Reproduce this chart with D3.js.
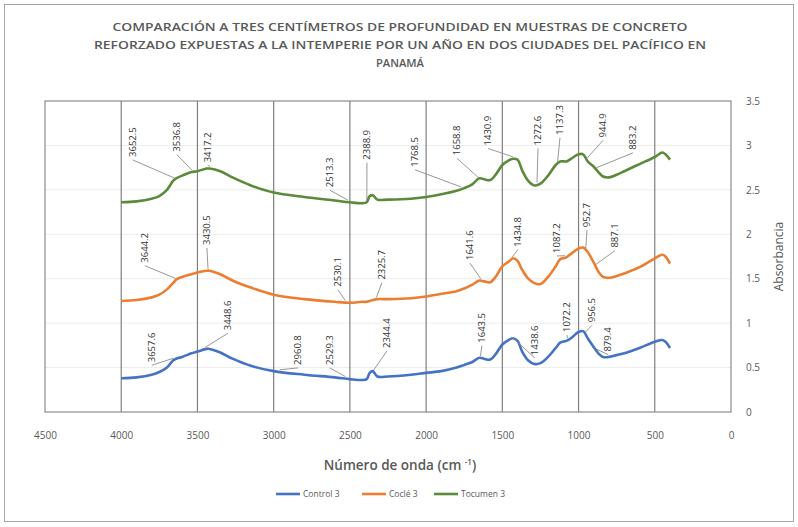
<!DOCTYPE html>
<meta charset='utf-8'>
<style>
  body { margin: 0; background: #fff; }
  svg text { font-family: "Open Sans", "Liberation Sans", sans-serif; fill: #595959; }
  .grid line { stroke: #7f7f7f; stroke-width: 1.2; }
  .hgrid line { stroke: #ececec; }
  .lbl { font-size: 9.5px; fill: #333; }
  .leader { stroke: #8c8c8c; stroke-width: 0.9; fill: none; }
</style>
<body></body>
<script src="https://cdn.jsdelivr.net/npm/d3@7"></script>
<script>

// wavenumbers (cm-1) shared by the three spectra
const wavenumbers = [4000, 3900, 3800, 3750, 3700, 3660, 3640, 3600, 3540, 3500, 3440, 3420, 3350, 3270, 3150, 3000,
  2800, 2600, 2500, 2420, 2390, 2370, 2350, 2320, 2250, 2100, 2000, 1900, 1800, 1750, 1700, 1650, 1620, 1580,
  1540, 1500, 1460, 1430, 1400, 1370, 1330, 1290, 1250, 1200, 1150, 1120, 1080, 1050, 1000, 970, 940, 900,
  870, 840, 800, 750, 700, 600, 500, 450, 430, 400];

const control3 = [0.38, 0.39, 0.42, 0.45, 0.50, 0.58, 0.60, 0.62, 0.66, 0.68, 0.71, 0.71, 0.67, 0.60, 0.52, 0.46,
  0.42, 0.39, 0.37, 0.36, 0.37, 0.44, 0.46, 0.40, 0.40, 0.42, 0.44, 0.46, 0.50, 0.53, 0.56, 0.61, 0.60, 0.59,
  0.66, 0.76, 0.81, 0.83, 0.80, 0.68, 0.58, 0.54, 0.55, 0.62, 0.72, 0.78, 0.80, 0.83, 0.90, 0.91, 0.83, 0.73,
  0.66, 0.62, 0.62, 0.64, 0.66, 0.72, 0.79, 0.81, 0.79, 0.72];

const cocle3 = [1.25, 1.26, 1.29, 1.32, 1.38, 1.45, 1.49, 1.52, 1.55, 1.57, 1.59, 1.59, 1.55, 1.48, 1.40, 1.32,
  1.27, 1.24, 1.23, 1.24, 1.24, 1.25, 1.26, 1.27, 1.27, 1.28, 1.30, 1.33, 1.36, 1.39, 1.43, 1.48, 1.47, 1.46,
  1.53, 1.64, 1.69, 1.73, 1.70, 1.60, 1.50, 1.45, 1.44, 1.52, 1.64, 1.72, 1.74, 1.78, 1.84, 1.85, 1.80, 1.68,
  1.58, 1.52, 1.51, 1.53, 1.56, 1.63, 1.73, 1.77, 1.75, 1.67];

const tocumen3 = [2.36, 2.37, 2.40, 2.43, 2.50, 2.60, 2.63, 2.66, 2.70, 2.71, 2.74, 2.74, 2.71, 2.64, 2.55, 2.47,
  2.42, 2.38, 2.36, 2.35, 2.36, 2.43, 2.44, 2.39, 2.39, 2.40, 2.42, 2.45, 2.49, 2.52, 2.56, 2.63, 2.62, 2.61,
  2.68, 2.78, 2.83, 2.85, 2.84, 2.72, 2.60, 2.55, 2.57, 2.66, 2.78, 2.82, 2.82, 2.85, 2.90, 2.90, 2.82, 2.76,
  2.70, 2.65, 2.64, 2.67, 2.71, 2.79, 2.87, 2.92, 2.90, 2.84];

const seriesNames = ['Control 3', 'Coclé 3', 'Tocumen 3'];
const seriesColors = ['#4472c4', '#ed7d31', '#5b8a3a'];

// peak labels: [series index, peak wavenumber, label wavenumber, label bottom absorbance]
const peakLabels = [
  [2, 3652.5, 3924, 2.87], [2, 3536.8, 3635, 2.93], [2, 3417.2, 3432, 2.81], [2, 2513.3, 2631, 2.53],
  [2, 2388.9, 2388, 2.84], [2, 1768.5, 2073, 2.76], [2, 1658.8, 1798, 2.89], [2, 1430.9, 1594, 3.00],
  [2, 1272.6, 1266, 3.00], [2, 1137.3, 1122, 3.12], [2, 944.9, 840, 3.09], [2, 883.2, 643, 2.95],
  [1, 3644.2, 3845, 1.68], [1, 3430.5, 3438, 1.88], [1, 2530.1, 2579, 1.41], [1, 2325.7, 2290, 1.49],
  [1, 1641.6, 1713, 1.71], [1, 1434.8, 1398, 1.86], [1, 1087.2, 1142, 1.79], [1, 952.7, 945, 2.08],
  [1, 887.1, 761, 1.85],
  [0, 3657.6, 3799, 0.56], [0, 3448.6, 3300, 0.92], [0, 2960.8, 2841, 0.53], [0, 2529.3, 2631, 0.53],
  [0, 2344.4, 2257, 0.72], [0, 1643.5, 1634, 0.78], [0, 1438.6, 1286, 0.64], [0, 1072.2, 1076, 0.90],
  [0, 956.5, 912, 1.01], [0, 879.4, 807, 0.68]
];

const xTicks = [4500, 4000, 3500, 3000, 2500, 2000, 1500, 1000, 500, 0];
const yTicks = [0, 0.5, 1, 1.5, 2, 2.5, 3, 3.5];

const titleLines = [
  'COMPARACIÓN A TRES CENTÍMETROS DE PROFUNDIDAD EN MUESTRAS DE CONCRETO',
  'REFORZADO EXPUESTAS A LA INTEMPERIE POR UN AÑO EN DOS CIUDADES DEL PACÍFICO EN',
  'PANAMÁ'
];

const W = 798, H = 527;
const svg = d3.select('body').append('svg').attr('width', W).attr('height', H);

svg.append('rect').attr('x', 4.5).attr('y', 4.5).attr('width', W - 9).attr('height', H - 10)
  .attr('fill', '#fff').attr('stroke', '#a6a6a6');

const x = d3.scaleLinear().domain([4500, 0]).range([45, 731]);
const y = d3.scaleLinear().domain([0, 3.5]).range([412, 101]);

// title
svg.append('g').selectAll('text').data(titleLines).join('text')
  .attr('x', 400).attr('y', (d, i) => 31 + i * 18)
  .attr('text-anchor', 'middle')
  .style('font-size', '10px').style('font-weight', 600).attr('fill', '#6b6b6b')
  .attr('textLength', (d, i) => [575, 612, 48][i])
  .attr('lengthAdjust', 'spacingAndGlyphs')
  .text(d => d);

// light horizontal grid
svg.append('g').attr('class', 'hgrid').selectAll('line').data(yTicks.slice(1, -1)).join('line')
  .attr('x1', x(4500)).attr('x2', x(0)).attr('y1', d => y(d)).attr('y2', d => y(d));

// vertical grid
svg.append('g').attr('class', 'grid').selectAll('line').data(xTicks.slice(1, -1)).join('line')
  .attr('x1', d => x(d)).attr('x2', d => x(d)).attr('y1', y(3.5)).attr('y2', y(0));

// plot frame
svg.append('rect').attr('x', x(4500)).attr('y', y(3.5))
  .attr('width', x(0) - x(4500)).attr('height', y(0) - y(3.5))
  .attr('fill', 'none').attr('stroke', '#8c8c8c').attr('stroke-width', 1.2);

// axes
const xAxis = svg.append('g').attr('transform', `translate(0,${y(0)})`)
  .call(d3.axisBottom(x).tickValues(xTicks).tickSize(0).tickPadding(20).tickFormat(d3.format('d')));
xAxis.select('.domain').remove();
xAxis.selectAll('text').style('font-size', '10px').attr('fill', '#595959');

const yAxis = svg.append('g').attr('transform', `translate(${x(0)},0)`)
  .call(d3.axisRight(y).tickValues(yTicks).tickSize(0).tickPadding(15).tickFormat(d3.format('')));
yAxis.select('.domain').remove();
yAxis.selectAll('text').style('font-size', '10px').attr('fill', '#595959');

svg.append('text').attr('x', 400).attr('y', 470).attr('text-anchor', 'middle')
  .style('font-size', '13.5px').style('font-weight', 600).attr('fill', '#333')
  .text('Número de onda (cm ')
  .append('tspan').attr('dy', -5).style('font-size', '8px').text('-1')
  .select(function() { return this.parentNode; })
  .append('tspan').attr('dy', 5).text(')');

svg.append('text').attr('transform', `translate(783,${(y(0) + y(3.5)) / 2}) rotate(-90)`)
  .attr('text-anchor', 'middle').style('font-size', '12px').attr('fill', '#595959')
  .text('Absorbancia');

// spectra
const allSeries = [control3, cocle3, tocumen3];
const line = d3.line().x(d => x(d[0])).y(d => y(d[1])).curve(d3.curveCatmullRom.alpha(0.5));
allSeries.forEach((vals, i) => {
  svg.append('path')
    .attr('d', line(wavenumbers.map((w, j) => [w, vals[j]])))
    .attr('fill', 'none').attr('stroke', seriesColors[i]).attr('stroke-width', 2.6)
    .attr('stroke-linejoin', 'round');
});

// value at a wavenumber
function valueAt(vals, w) {
  for (let j = 0; j < wavenumbers.length - 1; j++) {
    const a = wavenumbers[j], b = wavenumbers[j + 1];
    if (w <= a && w >= b) return vals[j] + (vals[j + 1] - vals[j]) * (a - w) / (a - b);
  }
  return vals[vals.length - 1];
}

// peak labels with leader lines
const lab = svg.append('g');
peakLabels.forEach(([s, w, lw, ly]) => {
  const px = x(w), py = y(valueAt(allSeries[s], w));
  const lx = x(lw), lyPx = y(ly);
  lab.append('path').attr('class', 'leader')
    .attr('d', `M${px},${py - 2}L${lx},${lyPx + 3}`);
  lab.append('text').attr('class', 'lbl')
    .attr('transform', `translate(${lx},${lyPx}) rotate(-90)`)
    .attr('dy', '0.35em')
    .text(d3.format('.1f')(w));
});

// legend
const legend = svg.append('g').attr('transform', 'translate(0,494)');
const legX = [276, 362, 434];
seriesNames.forEach((n, i) => {
  legend.append('line').attr('x1', legX[i]).attr('x2', legX[i] + 24).attr('y1', 0).attr('y2', 0)
    .attr('stroke', seriesColors[i]).attr('stroke-width', 2.6);
  legend.append('text').attr('x', legX[i] + 27).attr('y', 3).style('font-size', '8.5px').text(n);
});

</script>
